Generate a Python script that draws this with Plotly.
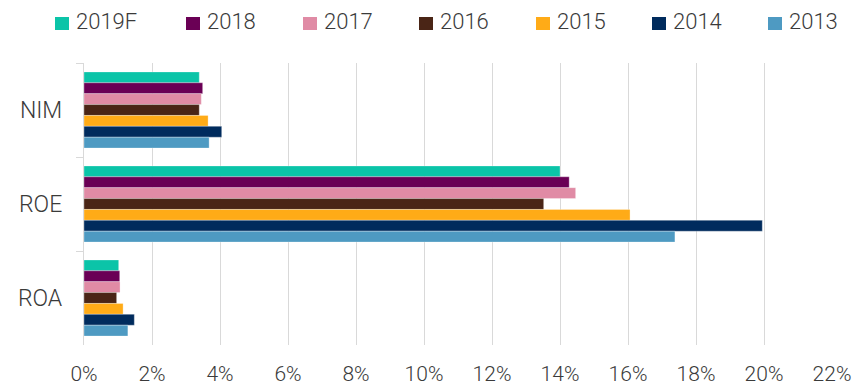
import plotly.graph_objects as go

# Bank profitability ratios by year (percent)
metrics = ["NIM", "ROE", "ROA"]
years = ["2019F", "2018", "2017", "2016", "2015", "2014", "2013"]
values = {
    "2019F": [3.39, 14.00, 1.02],
    "2018": [3.49, 14.27, 1.05],
    "2017": [3.45, 14.46, 1.06],
    "2016": [3.39, 13.52, 0.96],
    "2015": [3.65, 16.06, 1.15],
    "2014": [4.05, 19.95, 1.48],
    "2013": [3.68, 17.38, 1.29],
}
x_ticks = [0, 2, 4, 6, 8, 10, 12, 14, 16, 18, 20, 22]
tick_labels = [f"{t}%" for t in x_ticks]

colors = {
    "2019F": "#0BC4A8",
    "2018": "#6A0055",
    "2017": "#E08BA5",
    "2016": "#4A2516",
    "2015": "#FFAB17",
    "2014": "#002B5D",
    "2013": "#4E9AC2",
}

FONT = "Roboto"
TEXT = "#3a3a3a"
GRID = "#d9d9d9"

W, H = 857, 385
M = dict(l=84, r=25, t=63, b=40)
PW, PH = W - M["l"] - M["r"], H - M["t"] - M["b"]

fig = go.Figure()
for yr in years:
    fig.add_trace(go.Bar(
        name=yr,
        y=metrics,
        x=values[yr],
        orientation="h",
        showlegend=False,
        marker=dict(color=colors[yr], line=dict(color="rgba(255,255,255,0.5)", width=0.6)),
    ))

# Legend row along the top, laid out in pixels and converted to paper units
def px_x(px):
    return (px - M["l"]) / PW

def px_y(py):
    return (H - M["b"] - py) / PH

legend_left = [55, 186, 303, 419, 536, 652, 768]
swatch = 14
for yr, lx in zip(years, legend_left):
    fig.add_shape(
        type="rect", xref="paper", yref="paper",
        x0=px_x(lx), x1=px_x(lx + swatch), y0=px_y(17), y1=px_y(30),
        fillcolor=colors[yr], line=dict(width=0), layer="above",
    )
    fig.add_annotation(
        xref="paper", yref="paper", x=px_x(lx + swatch + 5), y=px_y(21.5),
        xanchor="left", yanchor="middle", showarrow=False, text=yr,
        font=dict(family=FONT, size=22, color=TEXT, weight=300),
    )

fig.update_layout(
    width=W, height=H,
    margin=M,
    paper_bgcolor="white", plot_bgcolor="white",
    barmode="group", bargap=0.19, bargroupgap=0,
    font=dict(family=FONT, size=22, color=TEXT, weight=300),
    showlegend=False,
)
fig.update_xaxes(
    range=[0, 22], tickvals=x_ticks, ticktext=tick_labels,
    showgrid=True, gridcolor=GRID, gridwidth=1.3,
    zeroline=False, showline=False, ticks="",
    ticklabelstandoff=14, automargin=False,
    tickfont=dict(family=FONT, size=21, color=TEXT, weight=300),
)
fig.update_yaxes(
    categoryorder="array", categoryarray=metrics, autorange="reversed",
    showgrid=False, showline=True, linecolor=GRID, linewidth=1.3,
    ticks="outside", tickson="boundaries", ticklen=7, tickcolor=GRID, tickwidth=1.3,
    ticklabelstandoff=16, automargin=False,
    tickfont=dict(family=FONT, size=23, color=TEXT, weight=300),
)

fig.write_html("out.html")
